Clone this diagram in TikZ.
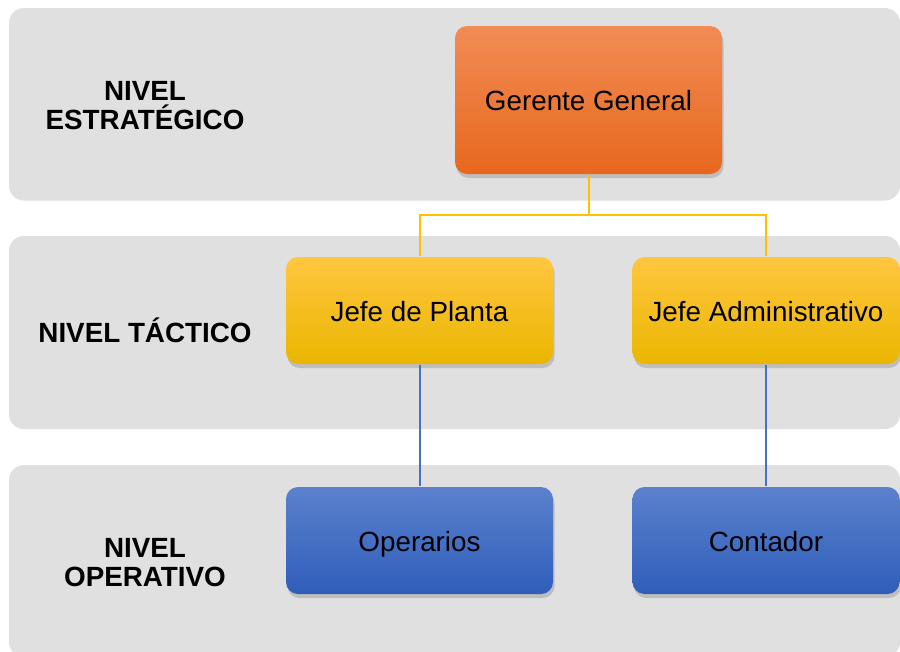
\documentclass[tikz,border=0pt]{standalone}
\usepackage{fontspec}
\setmainfont{Liberation Sans}
\usepackage{tikz}
\usetikzlibrary{positioning,shadows}
\definecolor{bandgray}{HTML}{E0E0E0}
\definecolor{orangetop}{HTML}{F18C55}
\definecolor{orangebot}{HTML}{E8671D}
\definecolor{yellowtop}{HTML}{FFC640}
\definecolor{yellowmid}{HTML}{FFC000}
\definecolor{yellowbot}{HTML}{EAB600}
\definecolor{bluetop}{HTML}{5B81CE}
\definecolor{bluebot}{HTML}{2F5EB9}
\definecolor{yellowline}{HTML}{FFC000}
\definecolor{blueline}{HTML}{4472C4}

\begin{document}
\begin{tikzpicture}[x=1pt,y=-1pt,node distance=230pt,line width=2pt]
		\tikzstyle{band}=[fill=bandgray,rounded corners=15pt]
		\tikzstyle{level}=[font=\fontsize{27.8}{29}\selectfont\bfseries,align=center,text=black]
		\tikzstyle{puesto}=[rounded corners=12pt,minimum width=267pt,minimum height=107pt,
			font=\fontsize{27.8}{33}\selectfont,text=black,text height=21pt,text depth=0pt,
			drop shadow={shadow xshift=1.5pt,shadow yshift=-4pt,opacity=0.35}]
		\tikzstyle{gerente}=[puesto,minimum height=148pt,top color=orangetop,bottom color=orangebot]
		\tikzstyle{jefe}=[puesto,top color=yellowtop,middle color=yellowmid,bottom color=yellowbot]
		\tikzstyle{operativo}=[puesto,top color=bluetop,bottom color=bluebot]
		
		\useasboundingbox (0,0) rectangle (900,651);
		\fill[white] (0,0) rectangle (900,651);
		\fill[band] (9,8) rectangle (900,200.5);
		\fill[band] (9,236) rectangle (900,429);
		\fill[band] (9,465) rectangle (900,657);
		
		\node[level] (estrategico) at (145,106) {NIVEL\\ESTRATÉGICO};
		\node[level] (tactico)     at (145,330) {NIVEL TÁCTICO};
		\node[level] (operativo)   at (145,563) {NIVEL\\OPERATIVO};
		
		\node[gerente]   (gg) at (588.5,100)   {Gerente General};
		\node[jefe]      (jp) at (419.5,310.5) {Jefe de Planta};
		\node[jefe]      (ja) at (766,310.5)   {Jefe Administrativo};
		\node[operativo] (op) [below of=jp]    {Operarios};
		\node[operativo] (co) [below of=ja]    {Contador};
		
		\coordinate (split) at (588.5,215);
		\draw[yellowline] (gg.south) -- (split);
		\draw[yellowline] (jp.north) |- (split) -| (ja.north);
		\draw[blueline] (jp) -- (op);
		\draw[blueline] (ja) -- (co);
\end{tikzpicture}
\end{document}
